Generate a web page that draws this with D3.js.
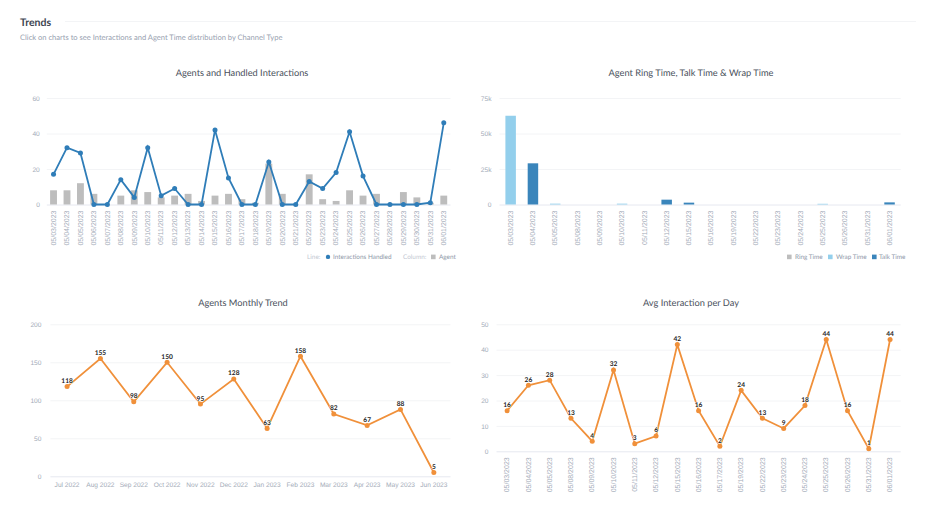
<!DOCTYPE html>
<html>
<head>
<meta charset="utf-8">
<script src="https://cdn.jsdelivr.net/npm/d3@7"></script>
<style>
    body { margin: 0; background: #fff; }
    svg { display: block; font-family: Lato, "Open Sans", sans-serif; text-rendering: geometricPrecision; }
    .tick line { display: none; }
    .domain { display: none; }
    .tick text { fill: #a3abb8; font-size: 6.6px; }
</style>
</head>
<body>
<div id="chart-container"></div>
<script>
var allDays = ["05/03/2023", "05/04/2023", "05/05/2023", "05/06/2023", "05/07/2023", "05/08/2023",
    "05/09/2023", "05/10/2023", "05/11/2023", "05/12/2023", "05/13/2023", "05/14/2023", "05/15/2023",
    "05/16/2023", "05/17/2023", "05/18/2023", "05/19/2023", "05/20/2023", "05/21/2023", "05/22/2023",
    "05/23/2023", "05/24/2023", "05/25/2023", "05/26/2023", "05/27/2023", "05/28/2023", "05/29/2023",
    "05/30/2023", "05/31/2023", "06/01/2023"];
var interactions = [17, 32, 29, 0, 0, 14, 4, 32, 5, 9, 0, 0, 42, 15, 0, 0, 24, 0, 0, 13, 9, 18, 41, 16, 0, 0, 0, 0, 1, 46];
var agents = [8, 8, 12, 6, 0, 5, 8, 7, 4, 5, 6, 2, 5, 6, 3, 1, 23, 6, 0, 17, 3, 2, 8, 5, 6, 0, 7, 4, 1, 5];

var timeDays = ["05/03/2023", "05/04/2023", "05/05/2023", "05/08/2023", "05/09/2023", "05/10/2023",
    "05/11/2023", "05/12/2023", "05/15/2023", "05/16/2023", "05/19/2023", "05/22/2023", "05/23/2023",
    "05/24/2023", "05/25/2023", "05/26/2023", "05/31/2023", "06/01/2023"];
var ringTime = [0, 0, 0, 0, 0, 0, 0, 0, 0, 0, 0, 0, 0, 0, 0, 0, 0, 0];
var wrapTime = [62500, 0, 600, 0, 0, 600, 0, 0, 0, 0, 0, 0, 0, 0, 500, 0, 0, 0];
var talkTime = [0, 29000, 0, 0, 0, 0, 0, 3400, 1300, 0, 0, 0, 0, 0, 0, 0, 0, 1500];

var months = ["Jul 2022", "Aug 2022", "Sep 2022", "Oct 2022", "Nov 2022", "Dec 2022", "Jan 2023",
    "Feb 2023", "Mar 2023", "Apr 2023", "May 2023", "Jun 2023"];
var monthlyAgents = [118, 155, 98, 150, 95, 128, 63, 158, 82, 67, 88, 5];

var avgDays = ["05/03/2023", "05/04/2023", "05/05/2023", "05/08/2023", "05/09/2023", "05/10/2023",
    "05/11/2023", "05/12/2023", "05/15/2023", "05/16/2023", "05/17/2023", "05/19/2023", "05/22/2023",
    "05/23/2023", "05/24/2023", "05/25/2023", "05/26/2023", "05/31/2023", "06/01/2023"];
var avgInteractions = [16, 26, 28, 13, 4, 32, 3, 6, 42, 16, 2, 24, 13, 9, 18, 44, 16, 1, 44];

var blue = "#2f7db8", grey = "#bdbdbd", lightBlue = "#93cfec", talkBlue = "#3a85bb", orange = "#f0903a";

var svg = d3.select("#chart-container")
    .append("svg")
    .attr("width", 936)
    .attr("height", 518);

// page header
svg.append("text").attr("x", 20).attr("y", 25.5)
    .style("font-size", "10.5px").style("font-weight", 700).style("fill", "#3d4450")
    .text("Trends");
svg.append("text").attr("x", 20).attr("y", 39.5)
    .style("font-size", "7.55px").style("fill", "#98a1b0")
    .text("Click on charts to see Interactions and Agent Time distribution by Channel Type");
svg.append("line").attr("x1", 65).attr("x2", 916).attr("y1", 21.5).attr("y2", 21.5)
    .style("stroke", "#f3f4f6");

var createChart = function (opts) {
    var x = d3.scaleBand().domain(opts.cats).range([opts.left, opts.right]);
    var y = d3.scaleLinear().domain([0, opts.ticks[opts.ticks.length - 1]]).range([opts.bottom, opts.top]);
    var chart = svg.append("g");

    chart.append("text")
        .attr("x", opts.titleX)
        .attr("y", opts.titleY)
        .attr("text-anchor", "middle")
        .style("font-size", "9.25px")
        .style("fill", "#4a515c")
        .text(opts.title);

    chart.selectAll(".grid")
        .data(opts.ticks)
        .enter()
        .append("line")
        .attr("x1", opts.left)
        .attr("x2", opts.right)
        .attr("y1", function (d) { return y(d) + 0.5; })
        .attr("y2", function (d) { return y(d) + 0.5; })
        .style("stroke", function (d) { return d === 0 ? "#e6e8f0" : "#f3f4f6"; });

    var yAxis = d3.axisLeft(y).tickValues(opts.ticks).tickSize(0).tickPadding(opts.yPad)
        .tickFormat(opts.yFormat || function (d) { return d; });
    chart.append("g")
        .attr("transform", "translate(" + opts.left + ",0)")
        .call(yAxis);

    var xAxis = d3.axisBottom(x).tickSize(0).tickPadding(0);
    var xg = chart.append("g")
        .attr("transform", "translate(0," + opts.bottom + ")")
        .call(xAxis);
    if (opts.rotate) {
        xg.selectAll("text")
            .attr("transform", "rotate(-90)")
            .attr("x", -6)
            .attr("y", 0)
            .attr("dy", "0.32em")
            .style("font-size", "7px")
            .style("text-anchor", "end");
    } else {
        xg.selectAll("text").attr("y", 5.6);
    }
    return { g: chart, x: x, y: y };
};

var drawLine = function (c, values, color, r, width) {
    var cx = function (d, i) { return c.x(c.x.domain()[i]) + c.x.bandwidth() / 2; };
    var line = d3.line().x(cx).y(function (d) { return c.y(d); });
    c.g.append("path")
        .datum(values)
        .attr("d", line)
        .style("fill", "none")
        .style("stroke", color)
        .style("stroke-width", width);
    c.g.selectAll(".pt" + color.slice(1))
        .data(values)
        .enter()
        .append("circle")
        .attr("cx", cx)
        .attr("cy", function (d) { return c.y(d); })
        .attr("r", r)
        .style("fill", color);
};

var drawLabels = function (c, values) {
    c.g.selectAll(".lbl")
        .data(values)
        .enter()
        .append("text")
        .attr("x", function (d, i) { return c.x(c.x.domain()[i]) + c.x.bandwidth() / 2; })
        .attr("y", function (d) { return c.y(d) - 3.6; })
        .attr("text-anchor", "middle")
        .style("font-size", "6.6px")
        .style("font-weight", 700)
        .style("fill", "#1b1b1b")
        .style("paint-order", "stroke")
        .style("stroke", "#fff")
        .style("stroke-width", "1px")
        .text(function (d) { return d; });
};

// Agents and Handled Interactions
var c1 = createChart({ title: "Agents and Handled Interactions", cats: allDays, ticks: [0, 20, 40, 60],
    left: 46.8, right: 450.5, top: 98, bottom: 204.5, rotate: true, yPad: 7, titleX: 242, titleY: 76 });
c1.g.selectAll(".bar")
    .data(agents)
    .enter()
    .append("rect")
    .attr("x", function (d, i) { return c1.x(allDays[i]) + 3.3; })
    .attr("width", c1.x.bandwidth() - 6.6)
    .attr("y", function (d) { return c1.y(d); })
    .attr("height", function (d) { return c1.y(0) - c1.y(d); })
    .style("fill", grey);
drawLine(c1, interactions, blue, 2.5, 1.8);

// Agent Ring Time, Talk Time & Wrap Time
var c2 = createChart({ title: "Agent Ring Time, Talk Time & Wrap Time", cats: timeDays, ticks: [0, 25000, 50000, 75000],
    left: 499.5, right: 900.7, top: 98, bottom: 204.5, rotate: true, yPad: 8, titleX: 691, titleY: 76,
    yFormat: function (d) { return d === 0 ? "0" : d / 1000 + "k"; } });
var stackRows = timeDays.map(function (d, i) {
    return { day: d, ring: ringTime[i], wrap: wrapTime[i], talk: talkTime[i] };
});
var stack = d3.stack().keys(["talk", "wrap", "ring"]);
var stackColors = { talk: talkBlue, wrap: lightBlue, ring: grey };
stack(stackRows).forEach(function (layer) {
    c2.g.selectAll(".s" + layer.key)
        .data(layer)
        .enter()
        .append("rect")
        .attr("x", function (d) { return c2.x(d.data.day) + 5.9; })
        .attr("width", c2.x.bandwidth() - 11.8)
        .attr("y", function (d) { return c2.y(d[1]); })
        .attr("height", function (d) { return c2.y(d[0]) - c2.y(d[1]); })
        .style("fill", stackColors[layer.key]);
});

// Agents Monthly Trend
var c3 = createChart({ title: "Agents Monthly Trend", cats: months, ticks: [0, 50, 100, 150, 200],
    left: 50.4, right: 450.5, top: 324.3, bottom: 476.3, rotate: false, yPad: 9, titleX: 243, titleY: 306 });
drawLine(c3, monthlyAgents, orange, 2.5, 1.8);
drawLabels(c3, monthlyAgents);

// Avg Interaction per Day
var c4 = createChart({ title: "Avg Interaction per Day", cats: avgDays, ticks: [0, 10, 20, 30, 40, 50],
    left: 496.5, right: 900.7, top: 324.3, bottom: 451.3, rotate: true, yPad: 8, titleX: 691, titleY: 306 });
drawLine(c4, avgInteractions, orange, 2.5, 1.8);
drawLabels(c4, avgInteractions);

// legends
var legendText = function (x, y, s, color) {
    svg.append("text").attr("x", x).attr("y", y + 2.4)
        .style("font-size", "6.4px").style("fill", color || "#8d97a8").text(s);
};
var legendSquare = function (x, y, color) {
    svg.append("rect").attr("x", x).attr("y", y - 2.3).attr("width", 4.6).attr("height", 4.6).style("fill", color);
};
legendText(307, 256.7, "Line:", "#c3c8d2");
svg.append("circle").attr("cx", 328).attr("cy", 256.9).attr("r", 2.2).style("fill", blue);
legendText(333, 256.7, "Interactions Handled");
legendText(403, 256.7, "Column:", "#c3c8d2");
legendSquare(431, 256.9, grey);
legendText(439, 256.7, "Agent");
legendSquare(787, 256.9, grey);
legendText(795, 256.7, "Ring Time");
legendSquare(828, 256.9, lightBlue);
legendText(836, 256.7, "Wrap Time");
legendSquare(872, 256.9, talkBlue);
legendText(879, 256.7, "Talk Time");
</script>
</body>
</html>
